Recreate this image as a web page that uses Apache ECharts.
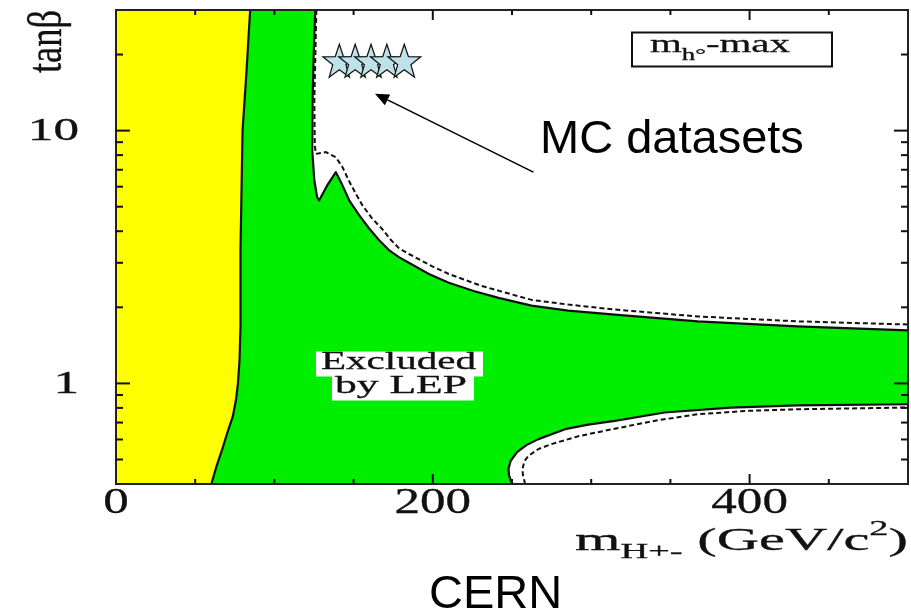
<!DOCTYPE html>
<html>
<head>
<meta charset="utf-8">
<script src="https://cdn.jsdelivr.net/npm/echarts@6/dist/echarts.min.js"></script>
<style>
html,body{margin:0;padding:0;background:#fff;}
#c{width:911px;height:616px;}
</style>
</head>
<body>
<div id="c"></div>
<script>
// ---------------- data ----------------
const massRange = [0, 500];
const tanRange = [0.4, 30];
const xTickLabels = [0, 200, 400];
const yTickLabels = [1, 10];
const xMinorTicks = [50, 100, 150, 250, 300, 350, 450];
const xMajorTicks = [200, 400];
const yMinorTicks = [0.5, 0.6, 0.7, 0.8, 0.9, 2, 3, 4, 5, 6, 7, 8, 9, 20];
const yMajorTicks = [1, 10];

// theoretically inaccessible region (yellow) edge
const inaccessibleMass = [60.2, 63.5, 67.1, 70.4, 73.8, 75.8, 77.0, 78.0, 78.6, 78.6, 79.9, 82.4, 84.7];
const inaccessibleTan  = [0.4, 0.471, 0.55, 0.641, 0.742, 0.865, 1.0, 1.24, 1.68, 3.37, 10, 17.2, 30];

// upper allowed region edge (observed, solid)
const upperObsMass = [125.8, 124.8, 124.1, 123.9, 125.2, 127.0, 128.3, 133.3, 138.8, 142.1, 147.2, 153.5, 159.7, 166.0, 172.3, 178.6, 184.9, 197.5, 210.1, 225.8, 241.5, 262.3, 285.5, 314.9, 367.3, 430.2, 500];
const upperObsTan  = [30, 20, 13.1, 8.34, 6.36, 5.45, 5.3, 6.07, 6.85, 6.24, 5.30, 4.63, 4.11, 3.69, 3.37, 3.16, 3.00, 2.71, 2.50, 2.32, 2.18, 2.03, 1.94, 1.87, 1.76, 1.68, 1.62];

// upper edge (expected, dashed)
const upperExpMass = [126.5, 125.2, 125.5, 126.2, 132.5, 138.8, 143.0, 147.2, 151.6, 155.5, 161.6, 168.1, 173.6, 178.6, 184.9, 199.4, 210.1, 230.8, 262.3, 285.5, 314.9, 367.3, 430.2, 500];
const upperExpTan  = [30, 13.1, 8.73, 8.09, 8.22, 7.85, 7.17, 6.30, 5.60, 5.07, 4.50, 4.08, 3.69, 3.43, 3.25, 2.91, 2.71, 2.43, 2.14, 2.05, 1.96, 1.84, 1.76, 1.71];

// lower allowed region edge (observed, solid)
const lowerObsMass = [250.0, 248.1, 247.8, 249.1, 253.0, 259.1, 266.7, 283.5, 298.1, 314.9, 346.4, 388.1, 430.2, 500];
const lowerObsTan  = [0.4, 0.434, 0.459, 0.493, 0.533, 0.570, 0.602, 0.659, 0.687, 0.711, 0.767, 0.802, 0.819, 0.827];

// lower edge (expected, dashed)
const lowerExpMass = [258.3, 256.9, 256.6, 257.9, 260.4, 266.7, 274.8, 291.8, 314.9, 342.1, 367.3, 398.7, 430.2, 500];
const lowerExpTan  = [0.4, 0.434, 0.459, 0.493, 0.517, 0.550, 0.575, 0.618, 0.662, 0.715, 0.755, 0.779, 0.790, 0.803];

// MC datasets (stars) and arrow annotation
const mcMass = [141, 151, 161, 171, 182];
const mcTan  = [18.9, 18.9, 18.9, 18.9, 18.9];
const arrowMass = [263.5, 163.5];
const arrowTan  = [6.85, 14.0];

// ---------------- styling ----------------
const GREEN = '#00ee00';
const YELLOW = '#ffff00';
const INK = '#111111';
const SERIF = '"Liberation Serif", "Times New Roman", serif';
const SANS = '"Liberation Sans", Arial, sans-serif';

const mctx = document.createElement('canvas').getContext('2d');
function tw(text, size, fam) { mctx.font = size + 'px ' + fam; return mctx.measureText(text).width; }

function pts(api, xs, ys) { return xs.map((x, i) => api.coord([x, ys[i]])); }

function customSeries(name, z, build) {
  return {
    type: 'custom', name: name, z: z, silent: true, clip: true,
    data: [[250, 1]],
    renderItem: (params, api) => build(api)
  };
}

function serifStyle(text, size, align) {
  return { text: text, font: size + 'px ' + SERIF, fill: INK, stroke: INK, lineWidth: 0.3,
    textAlign: align, textVerticalAlign: 'middle', align: align, verticalAlign: 'middle' };
}

function textEl(x, y, text, size, align, scaleX) {
  return { type: 'text', x: x, y: y, scaleX: scaleX || 1, style: serifStyle(text, size, align) };
}

function fitPieces(pieces, left, right, baseline) {
  let off = 0;
  const kids = [];
  pieces.forEach(p => {
    kids.push({ type: 'text', z: 101, x: off, y: (p.dy || 0) - 0.3375 * p.s, style: serifStyle(p.t, p.s, 'left') });
    off += tw(p.t, p.s, SERIF);
  });
  return { type: 'group', x: left, y: baseline, scaleX: (right - left) / off, z: 101, children: kids };
}

const starPath = 'path://M0,-50 L11.8,-16.2 L47.6,-15.5 L19,6.2 L29.4,40.5 L0,20 L-29.4,40.5 L-19,6.2 L-47.6,-15.5 L-11.8,-16.2 Z';

const chart = echarts.init(document.getElementById('c'), null, { renderer: 'canvas' });

const tanbW = tw('tanβ', 36, SERIF);

const option = {
  animation: false,
  backgroundColor: '#ffffff',
  grid: { left: 116, right: 3, top: 10, bottom: 132, show: true, backgroundColor: GREEN, borderWidth: 0 },
  xAxis: {
    type: 'value', min: massRange[0], max: massRange[1],
    axisLine: { show: false }, axisTick: { show: false }, axisLabel: { show: false }, splitLine: { show: false }
  },
  yAxis: {
    type: 'log', logBase: 10, min: tanRange[0], max: tanRange[1],
    axisLine: { show: false }, axisTick: { show: false }, axisLabel: { show: false }, splitLine: { show: false }
  },
  series: [
    customSeries('inaccessible', 3, api => {
      const p = [api.coord([massRange[0], tanRange[0]])]
        .concat(pts(api, inaccessibleMass, inaccessibleTan))
        .concat([api.coord([massRange[0], tanRange[1]])]);
      return { type: 'polygon', shape: { points: p }, style: { fill: YELLOW } };
    }),
    customSeries('upperAllowed', 3, api => {
      const p = pts(api, upperObsMass, upperObsTan).concat([api.coord([massRange[1], tanRange[1]])]);
      return { type: 'polygon', shape: { points: p }, style: { fill: '#ffffff' } };
    }),
    customSeries('lowerAllowed', 3, api => {
      const p = pts(api, lowerObsMass, lowerObsTan).concat([api.coord([massRange[1], tanRange[0]])]);
      return { type: 'polygon', shape: { points: p }, style: { fill: '#ffffff' } };
    }),
    customSeries('observedEdges', 4, api => ({
      type: 'group', children: [
        { type: 'polyline', shape: { points: pts(api, inaccessibleMass, inaccessibleTan) }, style: { stroke: INK, lineWidth: 2.2, fill: null, lineJoin: 'round' } },
        { type: 'polyline', shape: { points: pts(api, upperObsMass, upperObsTan) }, style: { stroke: INK, lineWidth: 2.2, fill: null, lineJoin: 'round' } },
        { type: 'polyline', shape: { points: pts(api, lowerObsMass, lowerObsTan) }, style: { stroke: INK, lineWidth: 2.2, fill: null, lineJoin: 'round' } }
      ]
    })),
    customSeries('expectedEdges', 4, api => ({
      type: 'group', children: [
        { type: 'polyline', shape: { points: pts(api, upperExpMass, upperExpTan) }, style: { stroke: INK, lineWidth: 2, lineDash: [5, 3], fill: null } },
        { type: 'polyline', shape: { points: pts(api, lowerExpMass, lowerExpTan) }, style: { stroke: INK, lineWidth: 2, lineDash: [5, 3], fill: null } }
      ]
    })),
    {
      type: 'custom', name: 'frame', z: 6, silent: true, clip: false, data: [[250, 1]],
      renderItem: (params, api) => {
        const bl = api.coord([massRange[0], tanRange[0]]);
        const tr = api.coord([massRange[1], tanRange[1]]);
        const kids = [{ type: 'rect', shape: { x: bl[0], y: tr[1], width: tr[0] - bl[0], height: bl[1] - tr[1] },
          style: { fill: null, stroke: '#222', lineWidth: 2 } }];
        const xt = (v, len) => {
          const b = api.coord([v, tanRange[0]]); const t = api.coord([v, tanRange[1]]);
          kids.push({ type: 'line', shape: { x1: b[0], y1: b[1], x2: b[0], y2: b[1] - len }, style: { stroke: '#111', lineWidth: 2 } });
          kids.push({ type: 'line', shape: { x1: t[0], y1: t[1], x2: t[0], y2: t[1] + len }, style: { stroke: '#111', lineWidth: 2 } });
        };
        const yt = (v, len) => {
          const l = api.coord([massRange[0], v]); const r = api.coord([massRange[1], v]);
          kids.push({ type: 'line', shape: { x1: l[0], y1: l[1], x2: l[0] + len, y2: l[1] }, style: { stroke: '#111', lineWidth: 2 } });
          kids.push({ type: 'line', shape: { x1: r[0], y1: r[1], x2: r[0] - len, y2: r[1] }, style: { stroke: '#111', lineWidth: 2 } });
        };
        xMinorTicks.forEach(v => xt(v, 5));
        xMajorTicks.forEach(v => xt(v, 10));
        yMinorTicks.forEach(v => yt(v, 7));
        yMajorTicks.forEach(v => yt(v, 14));
        xTickLabels.forEach(v => {
          const p = api.coord([v, tanRange[0]]);
          kids.push(textEl(p[0], p[1] + 20, String(v), 36, 'center', 1.42));
        });
        yTickLabels.forEach(v => {
          const p = api.coord([massRange[0], v]);
          kids.push(textEl(p[0] - 37, p[1] + 1, String(v), 31, 'right', 1.65));
        });
        return { type: 'group', children: kids };
      }
    },
    {
      type: 'scatter', name: 'MC datasets', z: 8, silent: true,
      data: mcMass.map((m, i) => [m, mcTan[i]]),
      symbol: starPath, symbolSize: [33, 33],
      itemStyle: { color: '#bde3e8', borderColor: '#111', borderWidth: 1.2, opacity: 1 }
    },
    customSeries('arrow', 9, api => {
      const a = api.coord([arrowMass[0], arrowTan[0]]);
      const b = api.coord([arrowMass[1], arrowTan[1]]);
      const dx = b[0] - a[0], dy = b[1] - a[1], L = Math.hypot(dx, dy), ux = dx / L, uy = dy / L;
      const hl = 14, hw = 6;
      const base = [b[0] - ux * hl, b[1] - uy * hl];
      return { type: 'group', children: [
        { type: 'line', shape: { x1: a[0], y1: a[1], x2: base[0], y2: base[1] }, style: { stroke: '#000', lineWidth: 1.6 } },
        { type: 'polygon', shape: { points: [b, [base[0] - uy * hw, base[1] + ux * hw], [base[0] + uy * hw, base[1] - ux * hw]] }, style: { fill: '#000' } }
      ] };
    })
  ],
  graphic: [
    // y-axis name
    {
      type: 'text', x: 65 - 0.3375 * 36 * 1.35, y: 41.5, rotation: Math.PI / 2, scaleX: 63 / tanbW, scaleY: 1.35, z: 100,
      style: serifStyle('tanβ', 36, 'center')
    },
    // x-axis name
    fitPieces([
      { t: 'm', s: 32 }, { t: 'H+-', s: 21, dy: 8 }, { t: ' (GeV/c', s: 32 }, { t: '2', s: 21, dy: -15 }, { t: ')', s: 32 }
    ], 575, 908, 552),
    // m_h-max box
    { type: 'rect', z: 99, shape: { x: 632, y: 32.5, width: 200, height: 34 }, style: { fill: '#fff', stroke: INK, lineWidth: 2 } },
    fitPieces([
      { t: 'm', s: 26 }, { t: 'h°', s: 17, dy: 7 }, { t: '-max', s: 26 }
    ], 650, 790, 54),
    // Excluded by LEP
    { type: 'rect', z: 99, shape: { x: 316, y: 351.5, width: 167, height: 25 }, style: { fill: '#fff' } },
    { type: 'rect', z: 99, shape: { x: 332, y: 376, width: 142, height: 24.5 }, style: { fill: '#fff' } },
    fitPieces([{ t: 'Excluded', s: 26 }], 321, 476, 371),
    fitPieces([{ t: 'by LEP', s: 26 }], 335, 467, 394.5),
    // annotation texts
    {
      type: 'text', x: 540, y: 156.7 - 0.3465 * 47, z: 100,
      style: { text: 'MC datasets', font: '47px ' + SANS, fill: '#000', textAlign: 'left', textVerticalAlign: 'middle', align: 'left', verticalAlign: 'middle' }
    },
    {
      type: 'text', x: 429, y: 611 - 0.3465 * 47, z: 100,
      style: { text: 'CERN', font: '47px ' + SANS, fill: '#000', textAlign: 'left', textVerticalAlign: 'middle', align: 'left', verticalAlign: 'middle' }
    }
  ]
};
chart.setOption(option);
</script>
</body>
</html>
